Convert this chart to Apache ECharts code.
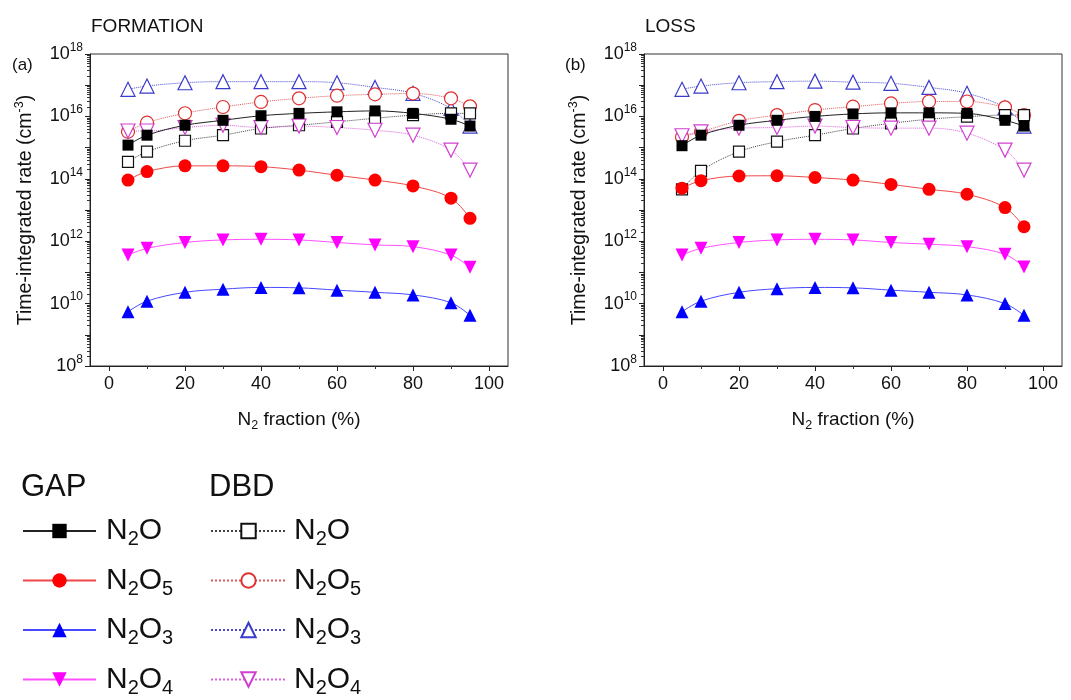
<!DOCTYPE html>
<html>
<head>
<meta charset="utf-8">
<script src="https://cdn.jsdelivr.net/npm/echarts@6/dist/echarts.min.js"></script>
<style>html,body{margin:0;padding:0;background:#fff}#c{width:1071px;height:700px}</style>
</head>
<body>
<div id="c"></div>
<script>
// N2 fraction (%)
const xValues = [5, 10, 20, 30, 40, 50, 60, 70, 80, 90, 95];

// (a) FORMATION
const gapN2O_a  = [1.2e15, 2.5e15, 5.2e15, 7.5e15, 1.05e16, 1.25e16, 1.4e16, 1.5e16, 1.25e16, 8.1e15, 4.9e15];
const gapN2O5_a = [9.1e13, 1.7e14, 2.6e14, 2.6e14, 2.45e14, 1.9e14, 1.3e14, 9.1e13, 5.9e13, 2.4e13, 5.4e12];
const gapN2O3_a = [5.5e9, 1.2e10, 2.3e10, 2.9e10, 3.3e10, 3.2e10, 2.7e10, 2.3e10, 1.9e10, 1.07e10, 4.2e9];
const gapN2O4_a = [3.6e11, 5.9e11, 9.1e11, 1.1e12, 1.15e12, 1.1e12, 9.1e11, 7.6e11, 6.7e11, 3.6e11, 1.45e11];
const dbdN2O_a  = [3.5e14, 7.4e14, 1.66e15, 2.5e15, 4.1e15, 5.2e15, 6.7e15, 8.7e15, 1.1e16, 1.25e16, 1.25e16];
const dbdN2O5_a = [3.2e15, 6.3e15, 1.26e16, 2.0e16, 2.9e16, 3.8e16, 4.6e16, 5.1e16, 5.4e16, 3.8e16, 2.1e16];
const dbdN2O3_a = [7.4e16, 9.4e16, 1.2e17, 1.3e17, 1.3e17, 1.3e17, 1.2e17, 8.5e16, 5.5e16, 1.8e16, 4.9e15];
const dbdN2O4_a = [3.4e15, 3.4e15, 4.4e15, 5.2e15, 4.4e15, 4.9e15, 4.4e15, 3.6e15, 2.5e15, 8.3e14, 1.9e14];

// (b) LOSS
const gapN2O_b  = [1.15e15, 2.5e15, 5.2e15, 7.5e15, 1.0e16, 1.2e16, 1.3e16, 1.3e16, 1.25e16, 7.5e15, 4.9e15];
const gapN2O5_b = [5.0e13, 8.7e13, 1.23e14, 1.25e14, 1.1e14, 9.1e13, 6.6e13, 4.6e13, 3.2e13, 1.2e13, 2.9e12];
const gapN2O3_b = [5.5e9, 1.2e10, 2.3e10, 3.0e10, 3.3e10, 3.2e10, 2.7e10, 2.3e10, 1.9e10, 1.0e10, 4.2e9];
const gapN2O4_b = [3.6e11, 5.9e11, 9.1e11, 1.1e12, 1.15e12, 1.1e12, 9.1e11, 8.0e11, 6.7e11, 3.8e11, 1.5e11];
const dbdN2O_b  = [4.6e13, 1.8e14, 7.4e14, 1.55e15, 2.5e15, 4.1e15, 6.0e15, 8.1e15, 9.8e15, 1.1e16, 1.1e16];
const dbdN2O5_b = [2.2e15, 3.2e15, 7.2e15, 1.1e16, 1.6e16, 2.05e16, 2.6e16, 3.0e16, 3.0e16, 1.95e16, 1.1e16];
const dbdN2O3_b = [7.4e16, 9.4e16, 1.2e17, 1.3e17, 1.35e17, 1.25e17, 1.15e17, 8.5e16, 5.5e16, 1.9e16, 4.9e15];
const dbdN2O4_b = [2.4e15, 3.2e15, 4.2e15, 4.4e15, 4.9e15, 4.4e15, 4.2e15, 4.2e15, 2.9e15, 8.3e14, 1.9e14];

// Tick labels / positions
const xTickValues = [0, 20, 40, 60, 80, 100];
const xMinorTickValues = [10, 30, 50, 70, 90];
const yLabelValues = [1e8, 1e10, 1e12, 1e14, 1e16, 1e18];
const yDecadeValues = [1e8, 1e9, 1e10, 1e11, 1e12, 1e13, 1e14, 1e15, 1e16, 1e17, 1e18];
const yMinorTickValues = [];
for (let e = 8; e < 18; e++) for (let k = 2; k <= 9; k++) yMinorTickValues.push(k * Math.pow(10, e));

const FONT = "'Liberation Sans', Arial, sans-serif";
const TXT = '#111';

const styles = {
  'GAP N2O':  {symbol: 'rect', size: 11, rotate: 0, line: '#222', dash: 'solid', fill: '#000', border: '#000'},
  'GAP N2O5': {symbol: 'circle', size: 13, rotate: 0, line: '#f04848', dash: 'solid', fill: '#ff0000', border: '#ff0000'},
  'GAP N2O3': {symbol: 'triangle', size: 13, rotate: 0, line: '#4848ff', dash: 'solid', fill: '#0000ff', border: '#0000ff'},
  'GAP N2O4': {symbol: 'triangle', size: 13, rotate: 180, line: '#ff50ff', dash: 'solid', fill: '#ff00ff', border: '#ff00ff'},
  'DBD N2O':  {symbol: 'rect', size: 11, rotate: 0, line: '#444', dash: 'dotted', fill: '#fff', border: '#111'},
  'DBD N2O5': {symbol: 'circle', size: 13, rotate: 0, line: '#e05a5a', dash: 'dotted', fill: '#fff', border: '#e03030'},
  'DBD N2O3': {symbol: 'triangle', size: 14, rotate: 0, line: '#4a4ad0', dash: 'dotted', fill: '#fff', border: '#3a3acc'},
  'DBD N2O4': {symbol: 'triangle', size: 14, rotate: 180, line: '#e060e0', dash: 'dotted', fill: '#fff', border: '#d040d0'}
};

const panelA = {
  'DBD N2O3': dbdN2O3_a, 'DBD N2O5': dbdN2O5_a, 'DBD N2O': dbdN2O_a, 'DBD N2O4': dbdN2O4_a,
  'GAP N2O': gapN2O_a, 'GAP N2O5': gapN2O5_a, 'GAP N2O3': gapN2O3_a, 'GAP N2O4': gapN2O4_a
};
const panelB = {
  'DBD N2O3': dbdN2O3_b, 'DBD N2O5': dbdN2O5_b, 'DBD N2O': dbdN2O_b, 'DBD N2O4': dbdN2O4_b,
  'GAP N2O': gapN2O_b, 'GAP N2O5': gapN2O5_b, 'GAP N2O3': gapN2O3_b, 'GAP N2O4': gapN2O4_b
};

function makeSeries(panel, xi, yi) {
  return Object.keys(panel).map(function (name) {
    const s = styles[name];
    const vals = panel[name];
    return {
      name: name,
      type: 'line',
      xAxisIndex: xi,
      yAxisIndex: yi,
      data: xValues.map(function (x, i) { return [x, vals[i]]; }),
      smooth: 0.35,
      symbol: s.symbol,
      symbolSize: s.size,
      symbolRotate: s.rotate,
      showAllSymbol: true,
      lineStyle: {color: s.line, width: 1, type: s.dash},
      itemStyle: {color: s.fill, borderColor: s.border, borderWidth: s.fill === '#fff' ? 1.2 : 0},
      emphasis: {disabled: true},
      z: name.indexOf('GAP') === 0 ? 3 : 2
    };
  });
}

function nudge(v) { return v >= 1e18 ? v * 0.9999999 : (v <= 1e8 ? v * 1.0000001 : v); }

function yAxisMain(gi) {
  return {
    type: 'log', gridIndex: gi, min: 1e8, max: 1e18, position: 'left',
    axisLine: {show: true, onZero: false, lineStyle: {color: '#222', width: 1}},
    axisTick: {show: true, customValues: yDecadeValues.map(nudge), length: 5, lineStyle: {color: '#222'}},
    axisLabel: {
      customValues: yLabelValues.map(nudge), margin: 7, color: TXT, showMaxLabel: true, showMinLabel: true,
      formatter: function (v) { const e = Math.round(Math.log10(v)); return '{b|10}{s|' + e + '}'; },
      rich: {b: {fontSize: 18, fontFamily: FONT, color: TXT}, s: {fontSize: 12, fontFamily: FONT, color: TXT, padding: [0, 0, 13, 0]}}
    },
    splitLine: {show: false},
    name: 'Time-integrated rate (cm{s|-3})',
    nameLocation: 'middle', nameRotate: 90, nameGap: 52,
    nameTextStyle: {fontSize: 19.5, fontFamily: FONT, color: TXT,
      rich: {s: {fontSize: 12.5, fontFamily: FONT, color: TXT, padding: [0, 0, 12, 0]}}}
  };
}
function yAxisMinor(gi) {
  return {
    type: 'log', gridIndex: gi, min: 1e8, max: 1e18, position: 'left',
    axisLine: {show: false, onZero: false},
    axisTick: {show: true, customValues: yMinorTickValues, length: 3, lineStyle: {color: '#333'}},
    axisLabel: {show: false},
    splitLine: {show: false}
  };
}
function xAxisMain(gi) {
  return {
    type: 'value', gridIndex: gi, min: -5, max: 105, position: 'bottom',
    axisLine: {show: true, onZero: false, lineStyle: {color: '#222', width: 1}},
    axisTick: {show: true, customValues: xTickValues, length: 5, lineStyle: {color: '#222'}},
    axisLabel: {customValues: xTickValues, fontSize: 18, fontFamily: FONT, color: TXT, margin: 9},
    splitLine: {show: false},
    name: '{n|N}{s|2}{n| fraction (%)}',
    nameLocation: 'middle', nameGap: 42,
    nameTextStyle: {fontSize: 19, fontFamily: FONT, color: TXT,
      rich: {n: {fontSize: 19, fontFamily: FONT, color: TXT}, s: {fontSize: 12.5, fontFamily: FONT, color: TXT, padding: [11, 0, 0, 0]}}}
  };
}
function xAxisMinor(gi) {
  return {
    type: 'value', gridIndex: gi, min: -5, max: 105, position: 'bottom',
    axisLine: {show: false, onZero: false},
    axisTick: {show: true, customValues: xMinorTickValues, length: 3, lineStyle: {color: '#333'}},
    axisLabel: {show: false},
    splitLine: {show: false}
  };
}

const legendNames = {
  'N2O': '{p|}{n|N}{s|2}{n|O}',
  'N2O5': '{p|}{n|N}{s|2}{n|O}{s|5}',
  'N2O3': '{p|}{n|N}{s|2}{n|O}{s|3}',
  'N2O4': '{p|}{n|N}{s|2}{n|O}{s|4}'
};
function legendFor(prefix, left, width, pad) {
  return {
    orient: 'vertical', left: left, top: 516, height: 184, padding: 0,
    itemWidth: width, itemHeight: 18, itemGap: 16,
    selectedMode: false,
    data: ['N2O', 'N2O5', 'N2O3', 'N2O4'].map(function (k) { return prefix + ' ' + k; }),
    formatter: function (name) { return legendNames[name.split(' ')[1]]; },
    textStyle: {fontSize: 30, fontFamily: FONT, color: TXT, rich: {
      p: {width: pad, fontSize: 30},
      n: {fontSize: 30, fontFamily: FONT, color: TXT},
      s: {fontSize: 20, fontFamily: FONT, color: TXT, padding: [17, 0, 0, 0]}
    }}
  };
}

const chart = echarts.init(document.getElementById('c'), null, {renderer: 'canvas'});
chart.setOption({
  animation: false,
  backgroundColor: '#fff',
  grid: [
    {left: 90, top: 54, width: 418, height: 312, show: true, borderColor: '#333', borderWidth: 1, backgroundColor: 'transparent'},
    {left: 644, top: 54, width: 418, height: 312, show: true, borderColor: '#333', borderWidth: 1, backgroundColor: 'transparent'}
  ],
  xAxis: [xAxisMain(0), xAxisMinor(0), xAxisMain(1), xAxisMinor(1)],
  yAxis: [yAxisMain(0), yAxisMinor(0), yAxisMain(1), yAxisMinor(1)],
  legend: [legendFor('GAP', 22, 73, 5), legendFor('DBD', 210, 75, 3)],
  graphic: [
    {type: 'text', left: 91, top: 17, style: {text: 'FORMATION', fontSize: 19, fontFamily: FONT, fill: TXT}},
    {type: 'text', left: 645, top: 17, style: {text: 'LOSS', fontSize: 19, fontFamily: FONT, fill: TXT}},
    {type: 'text', left: 12, top: 57, style: {text: '(a)', fontSize: 17, fontFamily: FONT, fill: TXT}},
    {type: 'text', left: 565, top: 57, style: {text: '(b)', fontSize: 17, fontFamily: FONT, fill: TXT}},
    {type: 'text', left: 21, top: 472, style: {text: 'GAP', fontSize: 31, fontFamily: FONT, fill: TXT}},
    {type: 'text', left: 209, top: 472, style: {text: 'DBD', fontSize: 31, fontFamily: FONT, fill: TXT}}
  ],
  series: makeSeries(panelA, 0, 0).concat(makeSeries(panelB, 2, 2))
});
</script>
</body>
</html>
